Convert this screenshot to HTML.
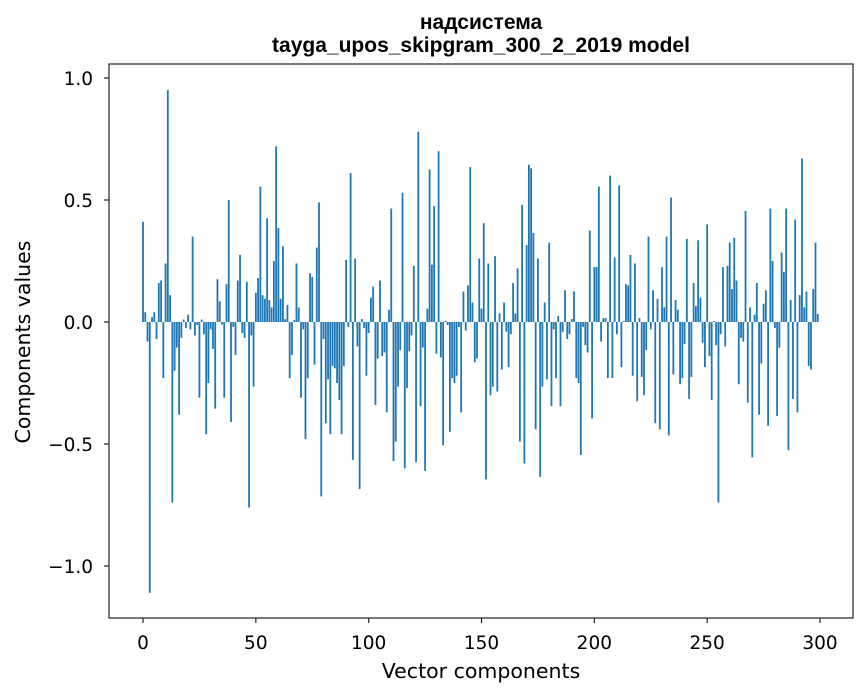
<!DOCTYPE html>
<html><head><meta charset="utf-8"><style>
html,body{margin:0;padding:0;background:#fff;}
svg{display:block;font-family:"DejaVu Sans","Liberation Sans",sans-serif;}
</style></head><body>
<svg id="chart" width="867" height="696" viewBox="0 0 867 696">
<rect width="867" height="696" fill="#fff"/>
<text x="481" y="29" text-anchor="middle" font-size="21" font-weight="bold" font-family="Liberation Sans, DejaVu Sans, sans-serif">надсистема</text>
<text x="481" y="52" text-anchor="middle" font-size="21" font-weight="bold" font-family="Liberation Sans, DejaVu Sans, sans-serif">tayga_upos_skipgram_300_2_2019 model</text>
<g id="bars"></g>
<g id="axes"></g>
<text x="481" y="678" text-anchor="middle" font-size="20.5">Vector components</text>
<text transform="translate(30,342) rotate(-90)" text-anchor="middle" font-size="20.5">Components values</text>
</svg>
<script>
const values = [
0.41,0.04,-0.08,-1.11,0.02,0.04,-0.07,0.16,0.17,-0.23,
0.24,0.95,0.11,-0.74,-0.20,-0.105,-0.38,-0.065,0.01,-0.025,
0.03,-0.03,0.35,-0.055,-0.012,-0.31,0.01,-0.05,-0.46,-0.25,
-0.03,-0.11,-0.355,0.175,0.085,-0.01,-0.31,0.155,0.50,-0.41,
-0.02,-0.135,0.17,0.275,-0.045,-0.065,0.165,-0.76,-0.055,-0.265,
0.12,0.18,0.555,0.11,0.095,0.425,0.09,0.06,0.25,0.72,
0.385,0.095,0.31,0.012,0.07,-0.23,-0.135,0.008,0.24,0.06,
-0.31,-0.03,-0.48,-0.23,0.2,0.185,-0.175,0.305,0.49,-0.715,
-0.07,-0.415,-0.235,-0.46,-0.18,-0.19,-0.25,-0.32,-0.46,-0.18,
0.255,-0.02,0.61,-0.565,0.26,-0.1,-0.685,0.012,-0.025,-0.22,
-0.045,0.1,0.145,-0.34,-0.15,0.17,-0.14,-0.125,-0.37,0.05,
0.465,-0.57,-0.49,-0.265,-0.115,0.53,-0.6,-0.27,-0.12,-0.055,
0.23,-0.575,0.78,-0.345,-0.105,-0.61,0.055,0.625,0.235,0.475,
-0.13,0.70,-0.145,-0.505,0.005,-0.012,-0.45,-0.23,-0.25,-0.22,
-0.02,-0.37,0.125,-0.035,0.15,0.635,0.08,-0.165,-0.15,0.26,
0.055,0.405,-0.645,0.24,-0.30,-0.265,0.27,-0.285,0.035,-0.195,
0.08,-0.04,-0.185,-0.05,0.16,0.035,0.22,-0.49,0.48,-0.58,
0.315,0.645,0.63,0.365,-0.44,0.26,-0.635,-0.265,0.08,-0.235,
0.325,-0.345,-0.03,-0.23,0.025,-0.345,-0.04,0.13,-0.07,-0.05,
0.012,0.125,-0.23,-0.25,-0.545,-0.02,-0.095,-0.125,0.375,-0.395,
0.225,0.225,0.555,-0.08,0.016,0.016,-0.23,0.60,-0.23,0.265,
-0.05,0.56,-0.185,0.004,0.155,0.15,0.275,-0.22,0.24,-0.325,
0.016,-0.225,-0.30,-0.115,0.35,-0.03,0.13,-0.415,0.095,-0.44,
0.225,0.06,0.35,-0.465,0.51,-0.215,0.09,0.05,-0.255,-0.23,
-0.09,0.34,-0.315,-0.225,0.16,0.065,0.335,0.1,-0.085,-0.185,
0.40,-0.14,-0.32,0.004,-0.095,-0.74,-0.05,0.225,-0.1,0.23,
0.325,0.135,0.345,0.17,-0.255,-0.065,-0.08,0.455,-0.33,0.06,
-0.555,0.03,0.16,-0.38,-0.17,0.075,0.13,-0.425,0.465,0.25,
-0.025,-0.385,-0.105,0.285,0.205,0.465,-0.525,0.09,-0.315,0.42,
-0.37,0.11,0.67,0.06,0.125,-0.18,-0.195,0.135,0.325,0.033
];
const xTicks = [0,50,100,150,200,250,300];
const yTicks = [-1.0,-0.5,0.0,0.5,1.0];
const yTickLabels = ["−1.0","−0.5","0.0","0.5","1.0"];

const NS = "http://www.w3.org/2000/svg";
const plot = {left:109, right:853, top:64, bottom:618};
function xScale(v){ return 143 + (820-143) * v / 300; }
function yScale(v){ return 322 - 244 * v; }

const barsG = document.getElementById('bars');
const bw = (xScale(0.8) - xScale(0));
values.forEach((v,i)=>{
  const r = document.createElementNS(NS,'rect');
  const y0 = yScale(0), y1 = yScale(v);
  r.setAttribute('x', xScale(i) - bw/2);
  r.setAttribute('y', Math.min(y0,y1));
  r.setAttribute('width', bw);
  r.setAttribute('height', Math.abs(y1-y0));
  r.setAttribute('fill', '#1f77b4');
  
  
  barsG.appendChild(r);
});

const axesG = document.getElementById('axes');
const frame = document.createElementNS(NS,'rect');
frame.setAttribute('x', plot.left);
frame.setAttribute('y', plot.top);
frame.setAttribute('width', plot.right-plot.left);
frame.setAttribute('height', plot.bottom-plot.top);
frame.setAttribute('fill','none');
frame.setAttribute('stroke','#222');
frame.setAttribute('stroke-width','1.2');


axesG.appendChild(frame);

xTicks.forEach(t=>{
  const x = xScale(t);
  const l = document.createElementNS(NS,'line');
  l.setAttribute('x1',x); l.setAttribute('x2',x);
  l.setAttribute('y1',plot.bottom); l.setAttribute('y2',plot.bottom+5);
  l.setAttribute('stroke','#222'); l.setAttribute('stroke-width','1.2');
  
  
  axesG.appendChild(l);
  const tx = document.createElementNS(NS,'text');
  tx.setAttribute('x',x); tx.setAttribute('y',649);
  tx.setAttribute('text-anchor','middle'); tx.setAttribute('font-size','18.5');
  tx.textContent = String(t);
  
  
  axesG.appendChild(tx);
});
yTicks.forEach((t,i)=>{
  const y = yScale(t);
  const l = document.createElementNS(NS,'line');
  l.setAttribute('x1',plot.left-5); l.setAttribute('x2',plot.left);
  l.setAttribute('y1',y); l.setAttribute('y2',y);
  l.setAttribute('stroke','#222'); l.setAttribute('stroke-width','1.2');
  
  
  axesG.appendChild(l);
  const tx = document.createElementNS(NS,'text');
  tx.setAttribute('x',plot.left-16); tx.setAttribute('y',y+7);
  tx.setAttribute('text-anchor','end'); tx.setAttribute('font-size','18.5');
  tx.textContent = yTickLabels[i];
  
  
  axesG.appendChild(tx);
});
</script>
</body></html>
